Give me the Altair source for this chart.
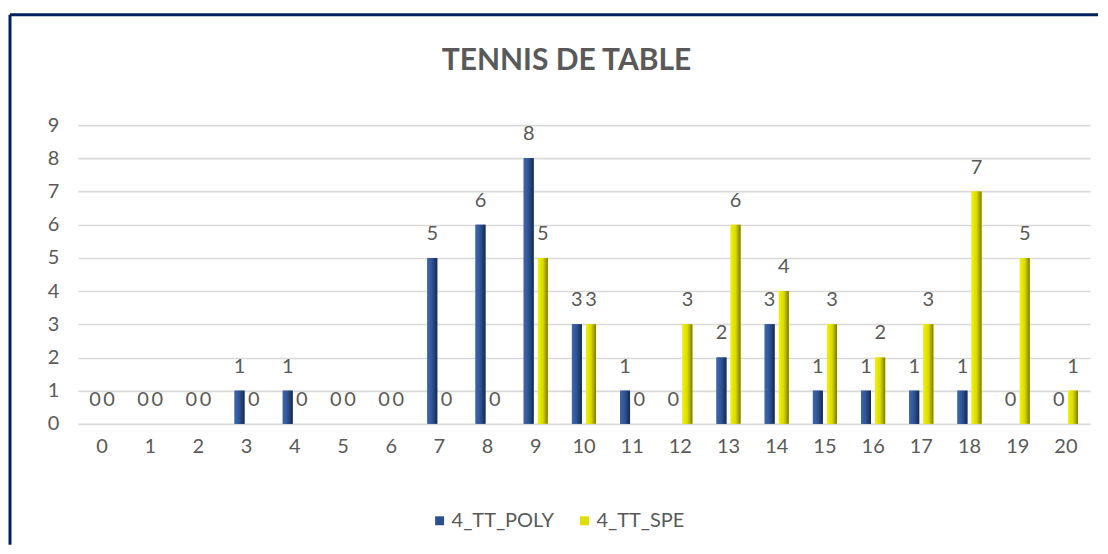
import altair as alt
import pandas as pd

categories = list(range(21))
poly = [0, 0, 0, 1, 1, 0, 0, 5, 6, 8, 3, 1, 0, 2, 3, 1, 1, 1, 1, 0, 0]
spe = [0, 0, 0, 0, 0, 0, 0, 0, 0, 5, 3, 0, 3, 6, 4, 3, 2, 3, 7, 5, 1]
series_names = ["4_TT_POLY", "4_TT_SPE"]
series_colors = ["#2B4F8C", "#DEDE00"]
title_text = "TENNIS DE TABLE"

rows = []
for c, a, b in zip(categories, poly, spe):
    rows.append({"cat": c, "series": series_names[0], "value": a})
    rows.append({"cat": c, "series": series_names[1], "value": b})
df = pd.DataFrame(rows)

FONT = "Lato"
GRAY = "#595959"
W, H = 1013, 299
FS = 20

x_enc = alt.X("cat:O", sort=categories, title=None,
              scale=alt.Scale(paddingInner=0.5, paddingOuter=0.25),
              axis=alt.Axis(labelAngle=0, domain=False, ticks=False, grid=False,
                            labelFontSize=FS, labelColor=GRAY, labelFont=FONT,
                            labelPadding=13))
xoff = alt.XOffset("series:N", sort=series_names,
                   scale=alt.Scale(paddingInner=0.3, paddingOuter=0))
y_enc = alt.Y("value:Q", title=None,
              scale=alt.Scale(domain=[0, 9], nice=False),
              axis=alt.Axis(values=list(range(10)), domain=False, ticks=False,
                            labelOverlap=False, tickCount=10,
                            gridColor="#D9D9D9", gridWidth=1.6,
                            labelFontSize=FS, labelColor=GRAY, labelFont=FONT,
                            labelPadding=19))

base = alt.Chart(df)

bars = base.mark_bar().encode(
    x=x_enc, xOffset=xoff, y=y_enc,
    color=alt.Color("series:N", sort=series_names,
                    scale=alt.Scale(domain=series_names, range=series_colors),
                    legend=alt.Legend(title=None, orient="none", legendX=352, legendY=386,
                                      direction="horizontal", symbolType="square",
                                      symbolSize=80, symbolStrokeWidth=0,
                                      labelFontSize=FS, labelColor=GRAY, labelFont=FONT,
                                      columnPadding=20, labelOffset=2)),
)

grad_poly = alt.Gradient(gradient="linear", x1=0, x2=1, y1=0, y2=0, stops=[
    alt.GradientStop(offset=0, color="#3B66B0"),
    alt.GradientStop(offset=0.45, color="#2F5597"),
    alt.GradientStop(offset=1, color="#17294D")])
grad_spe = alt.Gradient(gradient="linear", x1=0, x2=1, y1=0, y2=0, stops=[
    alt.GradientStop(offset=0, color="#F2F200"),
    alt.GradientStop(offset=0.5, color="#DADA00"),
    alt.GradientStop(offset=1, color="#7A7A00")])

shade_poly = base.transform_filter(alt.datum.series == series_names[0]).mark_bar(
    color=grad_poly).encode(x=x_enc, xOffset=xoff, y=y_enc)
shade_spe = base.transform_filter(alt.datum.series == series_names[1]).mark_bar(
    color=grad_spe).encode(x=x_enc, xOffset=xoff, y=y_enc)

labels = base.mark_text(fontSize=FS, color=GRAY, font=FONT, baseline="alphabetic", dy=-18).encode(
    x=x_enc, xOffset=xoff, y=y_enc, text=alt.Text("value:Q"),
)

one = alt.Chart(pd.DataFrame({"a": [0]}))
left_border = one.mark_rule(color="#002060", strokeWidth=3).encode(
    x=alt.value(-68), y=alt.value(-110.5), y2=alt.value(420))
top_border = one.mark_rule(color="#002060", strokeWidth=3).encode(
    x=alt.value(-68), x2=alt.value(1021), y=alt.value(-110.5))
title = one.mark_text(fontSize=30, fontWeight="bold", color=GRAY, font=FONT,
                      baseline="middle", align="center").encode(
    x=alt.value(489), y=alt.value(-64), text=alt.value(title_text))

chart = alt.layer(bars, shade_poly, shade_spe, labels, left_border, top_border, title).properties(
    width=W, height=H, background="white",
    padding={"left": 0, "top": 5, "right": 0, "bottom": 0}
).configure_view(stroke=None)

chart.save("out.html", embed_options={"renderer": "svg", "actions": False})
